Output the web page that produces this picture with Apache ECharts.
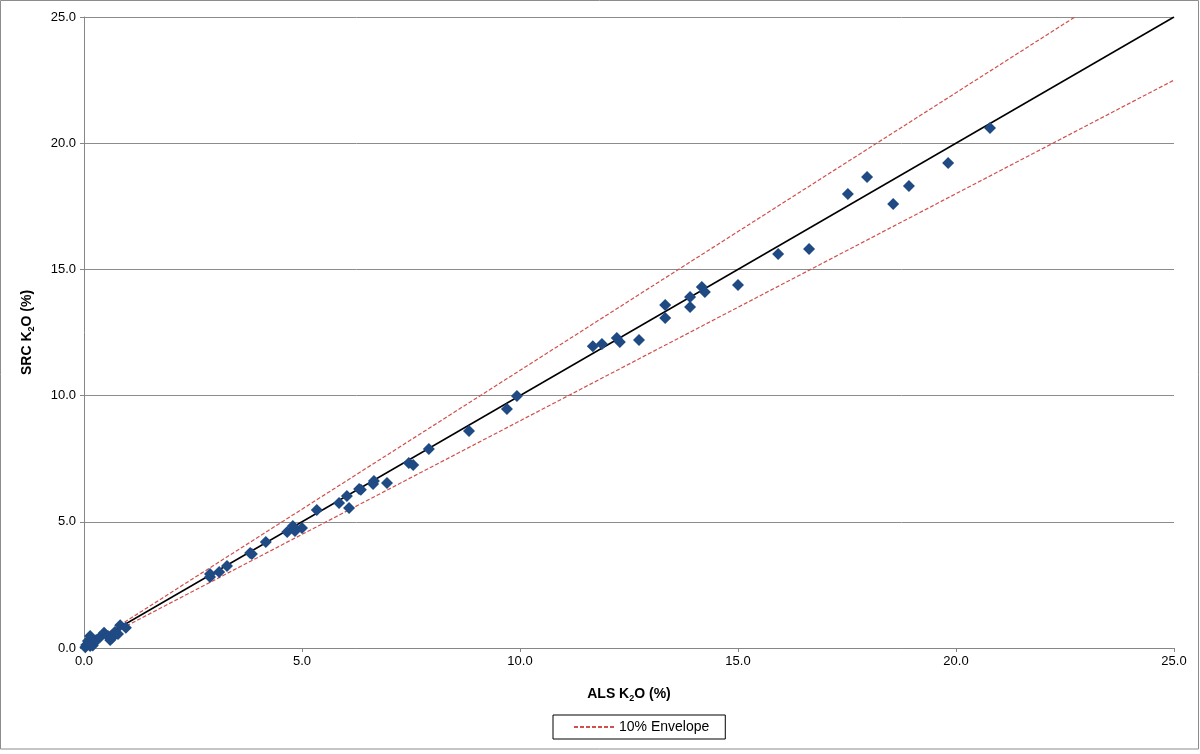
<!DOCTYPE html>
<html>
<head>
<meta charset="utf-8">
<script src="https://cdn.jsdelivr.net/npm/echarts@6/dist/echarts.min.js"></script>
<style>
html,body{margin:0;padding:0;background:#fff;}
#chart{width:1200px;height:754px;}
</style>
</head>
<body>
<div id="chart"></div>
<script>
// ALS K2O (%) values (x)
var alsK2O = [
  0.03,0.05,0.14,0.09,0.14,0.20,0.23,0.28,0.37,0.46,0.55,0.60,0.64,0.71,0.78,0.83,0.96,
  2.89,2.89,3.10,3.28,3.81,3.85,4.17,4.66,4.79,4.84,5.00,5.34,5.85,6.03,6.08,6.31,6.35,6.65,6.63,6.95,7.45,7.55,7.91,8.83,9.70,9.93,
  11.67,11.88,12.22,12.29,12.73,13.33,13.33,13.90,13.90,14.17,14.24,15.00,15.92,16.63,17.52,17.96,18.56,18.92,19.82,20.78
];
// SRC K2O (%) values (y)
var srcK2O = [
  0.03,0.12,0.08,0.28,0.48,0.10,0.20,0.32,0.44,0.60,0.48,0.32,0.40,0.63,0.55,0.90,0.80,
  2.81,2.93,3.01,3.25,3.76,3.72,4.20,4.60,4.83,4.64,4.75,5.47,5.74,6.02,5.55,6.30,6.27,6.62,6.50,6.54,7.33,7.25,7.88,8.60,9.47,9.98,
  11.96,12.04,12.28,12.12,12.20,13.59,13.07,13.91,13.51,14.30,14.10,14.38,15.61,15.81,17.99,18.66,17.59,18.30,19.22,20.60
];
var axisTicks = [0, 5, 10, 15, 20, 25];
var oneToOne = [[0, 0], [25, 25]];
var upperEnvelope = [[0, 0], [25 / 1.1, 25]];
var lowerEnvelope = [[0, 0], [25, 22.5]];

var points = alsK2O.map(function (x, i) { return [x, srcK2O[i]]; });
var font = 'Liberation Sans, Arial, sans-serif';

var chart = echarts.init(document.getElementById('chart'), null, {renderer: 'canvas'});
chart.setOption({
  animation: false,
  backgroundColor: '#fff',
  graphic: [{
    type: 'rect', silent: true,
    shape: {x: 0.5, y: 0.5, width: 1198, height: 748.5},
    style: {fill: 'none', stroke: '#8c8c8c', lineWidth: 1}
  }],
  grid: {left: 84, right: 26, top: 17, bottom: 106, containLabel: false},
  legend: {
    data: ['10% Envelope'],
    left: 553, top: 715,
    borderColor: '#000', borderWidth: 1,
    padding: [5, 16, 5, 20],
    itemWidth: 41, itemHeight: 14, itemGap: 4,
    itemStyle: {opacity: 0},
    textStyle: {fontFamily: font, fontSize: 14, color: '#000', padding: [0, 0, 0, -1]}
  },
  xAxis: {
    type: 'value', min: 0, max: 25, interval: 5,
    name: 'ALS K{sub|2}O (%)',
    nameLocation: 'middle', nameGap: 38,
    nameTextStyle: {
      fontFamily: font, fontSize: 14, fontWeight: 'bold', color: '#000',
      rich: {sub: {fontFamily: font, fontSize: 9, fontWeight: 'bold', color: '#000', verticalAlign: 'bottom', padding: [8, 0, 0, 0]}}
    },
    axisLine: {show: true, lineStyle: {color: '#868686', width: 1}},
    axisTick: {show: true, inside: false, length: 4, lineStyle: {color: '#868686'}},
    axisLabel: {fontFamily: font, fontSize: 13, color: '#000', margin: 7,
      formatter: function (v) { return v.toFixed(1); }},
    splitLine: {show: false}
  },
  yAxis: {
    type: 'value', min: 0, max: 25, interval: 5,
    name: 'SRC K{sub|2}O (%)',
    nameLocation: 'middle', nameGap: 48,
    nameTextStyle: {
      fontFamily: font, fontSize: 14, fontWeight: 'bold', color: '#000',
      rich: {sub: {fontFamily: font, fontSize: 9, fontWeight: 'bold', color: '#000', verticalAlign: 'bottom', padding: [8, 0, 0, 0]}}
    },
    axisLine: {show: true, lineStyle: {color: '#868686', width: 1}},
    axisTick: {show: true, inside: false, length: 4, lineStyle: {color: '#868686'}},
    axisLabel: {fontFamily: font, fontSize: 13, color: '#000', margin: 8,
      formatter: function (v) { return v.toFixed(1); }},
    splitLine: {show: true, lineStyle: {color: '#8c8c8c', width: 1}}
  },
  series: [
    {
      name: '10% Envelope', type: 'line', data: upperEnvelope, symbol: 'none',
      lineStyle: {color: '#d0504d', width: 1.2, type: [4, 2]}, z: 2, silent: true
    },
    {
      name: '10% Envelope', type: 'line', data: lowerEnvelope, symbol: 'none',
      lineStyle: {color: '#d0504d', width: 1.2, type: [4, 2]}, z: 2, silent: true
    },
    {
      name: '1:1', type: 'line', data: oneToOne, symbol: 'none',
      lineStyle: {color: '#000', width: 1.5}, z: 3, silent: true
    },
    {
      name: 'Samples', type: 'scatter', data: points,
      symbol: 'diamond', symbolSize: 12,
      itemStyle: {color: '#1f4a84', opacity: 1}, z: 4
    }
  ]
});
</script>
</body>
</html>
